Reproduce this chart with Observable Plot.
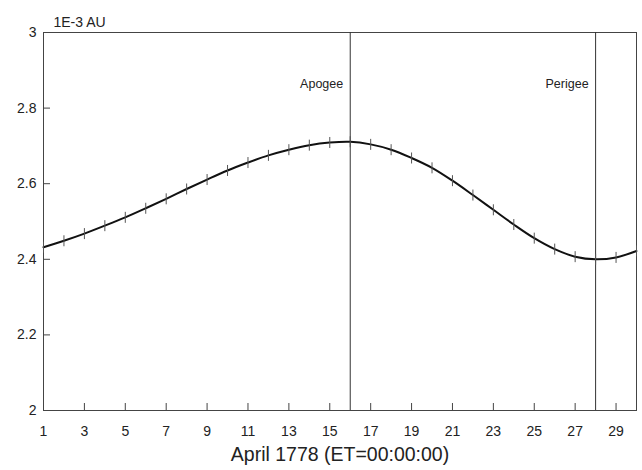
<!DOCTYPE html>
<html>
<head>
<meta charset="utf-8">
<script src="https://cdn.jsdelivr.net/npm/d3@7"></script>
<script src="https://cdn.jsdelivr.net/npm/@observablehq/plot@0.6"></script>
<style>
  html, body { margin: 0; padding: 0; background: #fff; }
  svg { font-family: "Liberation Sans", Arial, sans-serif; }
</style>
</head>
<body>
<div id="chart"></div>
<script>
// Day of April 1778
const days = [1,2,3,4,5,6,7,8,9,10,11,12,13,14,15,16,17,18,19,20,21,22,23,24,25,26,27,28,29,30];
// Earth–Moon distance in 1E-3 AU
const distance = [2.432,2.449,2.468,2.489,2.511,2.535,2.560,2.586,2.611,2.635,
                  2.656,2.675,2.690,2.702,2.709,2.711,2.704,2.690,2.668,2.642,
                  2.608,2.570,2.531,2.492,2.456,2.427,2.407,2.400,2.405,2.422];
const eventDays = [16, 28];
const eventNames = ["Apogee", "Perigee"];
const xTicks = [1,3,5,7,9,11,13,15,17,19,21,23,25,27,29];
const yTicks = [2,2.2,2.4,2.6,2.8,3];
const unitLabel = "1E-3 AU";
const xTitle = "April 1778 (ET=00:00:00)";

const data = days.map((d, i) => ({day: d, value: distance[i]}));
const events = eventDays.map((d, i) => ({day: d, name: eventNames[i]}));

// vertical bar marker symbol
const vbar = {
  draw(context, size) {
    const r = Math.sqrt(size / Math.PI);
    context.moveTo(0, -r);
    context.lineTo(0, r);
  }
};

const chart = Plot.plot({
  width: 642,
  height: 470,
  marginLeft: 43,
  marginRight: 6,
  marginTop: 32,
  marginBottom: 60,
  style: {fontFamily: "'Liberation Sans', Arial, sans-serif", color: "#222", background: "#fff"},
  x: {domain: [1, 30]},
  y: {domain: [2, 3]},
  marks: [
    Plot.frame({stroke: "#444", strokeWidth: 1}),
    // inward tick marks
    Plot.axisX({ticks: xTicks, tickSize: 7, dy: -7, text: null, label: null, stroke: "#444"}),
    Plot.axisX({ticks: xTicks, tickSize: 0, tickPadding: 16, label: null, fontSize: 14}),
    Plot.axisY({ticks: yTicks, tickSize: 7, dx: 7, text: null, label: null, stroke: "#444"}),
    Plot.axisY({ticks: yTicks, tickSize: 0, tickPadding: 7, label: null, fontSize: 14, tickFormat: d => String(d)}),
    // event lines
    Plot.ruleX(events, {x: "day", stroke: "#333", strokeWidth: 1}),
    Plot.text(events, {x: "day", text: "name", frameAnchor: "top", dy: 47, dx: -7, textAnchor: "end", fontSize: 12.5, fill: "#222"}),
    // curve
    Plot.line(data, {x: "day", y: "value", curve: "catmull-rom", stroke: "#111", strokeWidth: 2}),
    Plot.dot(data, {x: "day", y: "value", symbol: vbar, r: 5.5, stroke: "#555", strokeWidth: 1}),
    // labels
    Plot.text([unitLabel], {text: d => d, frameAnchor: "top-left", dx: 10, dy: -15, textAnchor: "start", fontSize: 14, fill: "#222"}),
    Plot.text([xTitle], {text: d => d, frameAnchor: "bottom", dy: 50, fontSize: 19.5, fill: "#222"})
  ]
});
document.getElementById("chart").appendChild(chart);
</script>
</body>
</html>
